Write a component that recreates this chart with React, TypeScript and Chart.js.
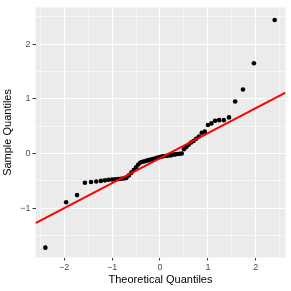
import React, { useEffect, useRef } from "react";
import { Chart, registerables } from "chart.js";

Chart.register(...registerables);

// Theoretical quantiles (normal, n = 60)
const theoretical: number[] = [
  -2.394, -1.960, -1.732, -1.569, -1.440, -1.331, -1.235, -1.150, -1.073, -1.001,
  -0.935, -0.872, -0.812, -0.755, -0.701, -0.649, -0.598, -0.548, -0.500, -0.454,
  -0.408, -0.363, -0.319, -0.275, -0.232, -0.189, -0.147, -0.105, -0.063, -0.021,
  0.021, 0.063, 0.105, 0.147, 0.189, 0.232, 0.275, 0.319, 0.363, 0.408,
  0.454, 0.500, 0.548, 0.598, 0.649, 0.701, 0.755, 0.812, 0.872, 0.935,
  1.001, 1.073, 1.150, 1.235, 1.331, 1.440, 1.569, 1.732, 1.960, 2.394,
];

// Sample quantiles
const sample: number[] = [
  -1.72, -0.89, -0.76, -0.535, -0.52, -0.51, -0.50, -0.49, -0.48, -0.475,
  -0.47, -0.465, -0.46, -0.455, -0.445, -0.40, -0.35, -0.30, -0.25, -0.20,
  -0.165, -0.15, -0.14, -0.13, -0.12, -0.11, -0.10, -0.09, -0.08, -0.07,
  -0.06, -0.05, -0.045, -0.04, -0.035, -0.03, -0.02, -0.015, -0.01, -0.005,
  0.0, 0.08, 0.12, 0.16, 0.20, 0.23, 0.27, 0.31, 0.38, 0.40,
  0.52, 0.55, 0.60, 0.61, 0.61, 0.66, 0.95, 1.17, 1.65, 2.44,
];

// Reference line (qq line)
const lineIntercept = -0.083;
const lineSlope = 0.457;

const xRange = [-2.6, 2.62];
const yRange = [-1.9, 2.67];
const xTickValues = [-2.5, -2, -1.5, -1, -0.5, 0, 0.5, 1, 1.5, 2, 2.5];
const yTickValues = [-1.5, -1, -0.5, 0, 0.5, 1, 1.5, 2, 2.5];

const fmt = (v: number) => (v < 0 ? "\u2212" + Math.abs(v) : String(v));
const isMajor = (v: number) => Math.abs(v - Math.round(v)) < 1e-9;

const panelBg = {
  id: "panelBg",
  beforeDraw(chart: any) {
    const { ctx, chartArea } = chart;
    ctx.save();
    ctx.fillStyle = "#EBEBEB";
    ctx.fillRect(chartArea.left, chartArea.top, chartArea.right - chartArea.left, chartArea.bottom - chartArea.top);
    ctx.restore();
  },
};

export default function App() {
  const ref = useRef<HTMLCanvasElement | null>(null);
  useEffect(() => {
    document.body.style.margin = "0";
    if (!ref.current) return;
    const points = theoretical.map((x, i) => ({ x, y: sample[i] }));
    const linePts = xRange.map((x) => ({ x, y: lineIntercept + lineSlope * x }));
    const font = "'Liberation Sans', Arial, Helvetica, sans-serif";
    const gridOpts = {
      color: "#FFFFFF",
      lineWidth: (c: any) => (c.tick && isMajor(c.tick.value) ? 1.1 : 0.55),
      tickColor: (c: any) => (c.tick && isMajor(c.tick.value) ? "#333333" : "rgba(0,0,0,0)"),
      tickLength: 3,
      tickWidth: 1,
      drawTicks: true,
    };
    const chart = new Chart(ref.current, {
      type: "scatter",
      data: {
        datasets: [
          {
            type: "line",
            data: linePts,
            borderColor: "#FF0000",
            borderWidth: 2,
            pointRadius: 0,
            fill: false,
            order: 0,
          } as any,
          {
            type: "scatter",
            data: points,
            backgroundColor: "#000000",
            borderColor: "#000000",
            borderWidth: 0,
            pointRadius: 2.3,
            order: 1,
          },
        ],
      },
      options: {
        animation: false,
        responsive: false,
        devicePixelRatio: 1,
        layout: { padding: { top: 5, right: 5.5, left: 0, bottom: 0 } },
        plugins: { legend: { display: false }, tooltip: { enabled: false } },
        scales: {
          x: {
            type: "linear",
            min: xRange[0],
            max: xRange[1],
            afterBuildTicks: (s: any) => {
              s.ticks = xTickValues.map((v) => ({ value: v }));
            },
            afterFit: (s: any) => {
              s.height = 33.5;
            },
            border: { display: false },
            grid: gridOpts as any,
            ticks: {
              autoSkip: false,
              maxRotation: 0,
              padding: 2,
              color: "#4D4D4D",
              font: { family: font, size: 9 },
              callback: (v: any) => (isMajor(Number(v)) ? fmt(Number(v)) : ""),
            },
            title: {
              display: true,
              text: "Theoretical Quantiles",
              color: "#000000",
              font: { family: font, size: 11 },
              padding: { top: 0, bottom: 4 },
            },
          },
          y: {
            type: "linear",
            min: yRange[0],
            max: yRange[1],
            afterBuildTicks: (s: any) => {
              s.ticks = yTickValues.map((v) => ({ value: v }));
            },
            afterFit: (s: any) => {
              s.width = 35.5;
            },
            border: { display: false },
            grid: gridOpts as any,
            ticks: {
              autoSkip: false,
              padding: 2,
              color: "#4D4D4D",
              font: { family: font, size: 9 },
              callback: (v: any) => (isMajor(Number(v)) ? fmt(Number(v)) : ""),
            },
            title: {
              display: true,
              text: "Sample Quantiles",
              color: "#000000",
              font: { family: font, size: 11 },
              padding: { top: 1.5, bottom: 0 },
            },
          },
        },
      },
      plugins: [panelBg],
    });
    return () => chart.destroy();
  }, []);
  return (
    <div style={{ width: 291, height: 291 }}>
      <canvas ref={ref} width={291} height={291} style={{ width: 291, height: 291, display: "block" }} />
    </div>
  );
}
